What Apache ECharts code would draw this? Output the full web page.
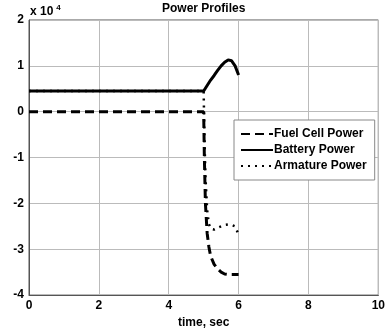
<!DOCTYPE html>
<html><head><meta charset="utf-8">
<script src="https://cdn.jsdelivr.net/npm/echarts@6/dist/echarts.min.js"></script>
<style>html,body{margin:0;padding:0;background:#fff}#c{width:388px;height:334px}</style>
</head><body><div id="c"></div>
<script>
const titleText = 'Power Profiles';
const xLabel = 'time, sec';
const seriesNames = ['Fuel Cell Power', 'Battery Power', 'Armature Power'];
const time = [0, 5.0, 5.02, 5.05, 5.1, 5.15, 5.2, 5.3, 5.4, 5.5, 5.6, 5.7, 5.8, 5.9, 6.0];
const fuelCell = [0, 0, -10000, -20000, -26500, -29500, -31500, -33300, -34300, -35000, -35400, -35500, -35500, -35500, -35500];
const battery = [4500, 4500, 4700, 5100, 5700, 6300, 6900, 7900, 9000, 10000, 10800, 11300, 11100, 10000, 8000];
const armature = [4500, 4500, -5000, -14000, -21500, -24500, -25500, -25700, -25300, -25000, -24700, -24600, -24700, -25000, -26800];
const yScaleExp = 4;

const pair = (a) => time.map((t, i) => [t, a[i]]);
const chart = echarts.init(document.getElementById('c'), null, {renderer: 'canvas'});
const F = 'Liberation Sans, Arial, sans-serif';
chart.setOption({
  animation: false,
  backgroundColor: '#fff',
  title: {text: titleText, left: 157, top: 0, padding: [3, 5, 5, 5],
    textStyle: {fontFamily: F, fontSize: 12, fontWeight: 'bold', color: '#000'}},
  grid: {left: 29, right: 7, top: 20, bottom: 36, show: true, borderColor: '#555', borderWidth: 1},
  xAxis: {type: 'value', min: 0, max: 10, interval: 2,
    name: xLabel, nameLocation: 'middle', nameGap: 21,
    nameTextStyle: {fontFamily: F, fontSize: 12, fontWeight: 'bold', color: '#000'},
    axisLine: {onZero: false, lineStyle: {color: '#555'}}, axisTick: {show: false},
    axisLabel: {fontFamily: F, fontSize: 12, fontWeight: 'bold', color: '#000', margin: 5},
    splitLine: {lineStyle: {color: '#bbb', width: 1}}},
  yAxis: {type: 'value', min: -40000, max: 20000, interval: 10000,
    axisLine: {show: true, onZero: false, lineStyle: {color: '#555'}}, axisTick: {show: false},
    axisLabel: {fontFamily: F, fontSize: 12, fontWeight: 'bold', color: '#000', margin: 5,
      formatter: v => String(v / Math.pow(10, yScaleExp))},
    splitLine: {lineStyle: {color: '#bbb', width: 1}}},
  legend: {orient: 'vertical', left: 234, top: 120, width: 143, height: 62,
    padding: [8, 8, 8, 6], itemGap: 4, itemWidth: 32, itemHeight: 12,
    backgroundColor: '#fff', borderColor: '#888', borderWidth: 1,
    itemStyle: {opacity: 0},
    textStyle: {fontFamily: F, fontSize: 12, fontWeight: 'bold', color: '#000', padding: [0, 0, 0, -4]},
    data: seriesNames},
  graphic: [{type: 'text', left: 30, top: 4,
    style: {text: 'x 10{s|' + yScaleExp + '}', font: 'bold 12px ' + F, fill: '#000',
      rich: {s: {fontSize: 8, fontWeight: 'bold', verticalAlign: 'top', padding: [0, 0, 8, 3]}}}}],
  series: [
    {name: seriesNames[0], type: 'line', data: pair(fuelCell), showSymbol: false, symbol: 'none',
      lineStyle: {color: '#000', width: 3, type: [9, 5]}, itemStyle: {color: '#000'}, z: 2},
    {name: seriesNames[1], type: 'line', data: pair(battery), showSymbol: false, symbol: 'none',
      lineStyle: {color: '#000', width: 3, type: 'solid'}, itemStyle: {color: '#000'}, z: 3},
    {name: seriesNames[2], type: 'line', data: pair(armature), showSymbol: false, symbol: 'none',
      lineStyle: {color: '#000', width: 2.5, type: [2, 5]}, itemStyle: {color: '#000'}, z: 4}
  ]
});
</script></body></html>
